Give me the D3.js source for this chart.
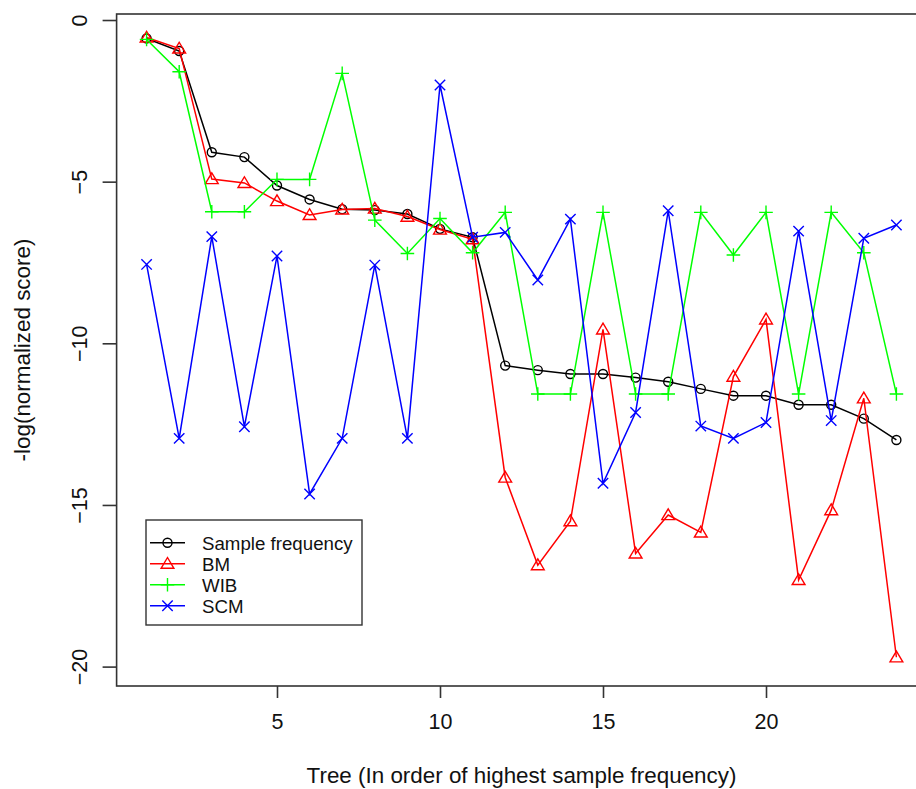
<!DOCTYPE html>
<html>
<head>
<meta charset="utf-8">
<script src="https://cdn.jsdelivr.net/npm/d3@7"></script>
<style>
  html, body { margin: 0; padding: 0; background: #fff; }
  svg { display: block; font-family: "Liberation Sans", Arial, sans-serif; }
</style>
</head>
<body>
<svg id="chart" width="916" height="789"></svg>
<script>
// Tree index (ordered by highest sample frequency)
const trees = d3.range(1, 25);

// -log(normalized score) per method
const sampleFreq = [-0.57, -0.96, -4.09, -4.24, -5.12, -5.55, -5.85, -5.88, -6.0, -6.46, -6.72, -10.69,
                    -10.83, -10.95, -10.95, -11.06, -11.19, -11.41, -11.62, -11.62, -11.9, -11.9, -12.33, -12.99];
const bm = [-0.54, -0.88, -4.92, -5.04, -5.6, -6.03, -5.86, -5.83, -6.08, -6.48, -6.78, -14.15,
            -16.86, -15.5, -9.57, -16.5, -15.31, -15.85, -11.03, -9.26, -17.32, -15.16, -11.7, -19.71];
const wib = [-0.6, -1.6, -5.93, -5.93, -4.93, -4.93, -1.65, -6.19, -7.22, -6.14, -7.2, -5.95,
             -11.57, -11.57, -5.95, -11.57, -11.57, -5.95, -7.27, -5.95, -11.57, -5.95, -7.2, -11.57];
const scm = [-7.56, -12.94, -6.7, -12.58, -7.3, -14.66, -12.94, -7.58, -12.94, -2.01, -6.72, -6.57,
             -8.04, -6.16, -14.33, -12.14, -5.9, -12.56, -12.94, -12.45, -6.53, -12.39, -6.75, -6.34];

const seriesNames = ["Sample frequency", "BM", "WIB", "SCM"];
const seriesColors = ["#000000", "#ff0000", "#00ff00", "#0000ff"];
const seriesShapes = ["circle", "triangle", "plus", "cross"];
const xTicks = [5, 10, 15, 20];
const yTicks = [0, -5, -10, -15, -20];
const xTitle = "Tree (In order of highest sample frequency)";
const yTitle = "-log(normalized score)";

const seriesValues = [sampleFreq, bm, wib, scm];

const svg = d3.select("#chart");
const font = "Liberation Sans, Arial, sans-serif";

// Plot region: x extends 4% past the data on each side, like R's default
const x = d3.scaleLinear().domain([0.08, 24.92]).range([116.6, 926.4]);
const y = d3.scaleLinear().domain([-20.6, 0.186]).range([686, 14]);

// Point symbol path generators
function symbolPath(shape) {
  switch (shape) {
    case "circle":
      return "M-4.5,0A4.5,4.5 0 1,0 4.5,0A4.5,4.5 0 1,0 -4.5,0Z";
    case "triangle":
      return "M0,-6.2L6.4,4.6L-6.4,4.6Z";
    case "plus":
      return "M-6.8,0L6.8,0M0,-6.8L0,6.8";
    case "cross":
      return "M-5.2,-5.2L5.2,5.2M-5.2,5.2L5.2,-5.2";
  }
}

// Lines and points, one series at a time
const line = d3.line().x((d, i) => x(trees[i])).y(d => y(d));
seriesValues.forEach((vals, k) => {
  const g = svg.append("g");
  g.append("path")
    .datum(vals)
    .attr("d", line)
    .attr("fill", "none")
    .attr("stroke", seriesColors[k])
    .attr("stroke-width", 1.5);
  g.selectAll("path.pt")
    .data(vals)
    .enter().append("path")
    .attr("class", "pt")
    .attr("transform", (d, i) => `translate(${x(trees[i])},${y(d)})`)
    .attr("d", symbolPath(seriesShapes[k]))
    .attr("fill", "none")
    .attr("stroke", seriesColors[k])
    .attr("stroke-width", 1.4);
});

// Frame around the plot region
svg.append("rect")
  .attr("x", x.range()[0]).attr("y", y.range()[1])
  .attr("width", x.range()[1] - x.range()[0])
  .attr("height", y.range()[0] - y.range()[1])
  .attr("fill", "none")
  .attr("stroke", "#333")
  .attr("stroke-width", 1.6);

// X axis
const xAxis = svg.append("g")
  .attr("transform", `translate(0,${y.range()[0]})`)
  .call(d3.axisBottom(x).tickValues(xTicks).tickSize(12).tickPadding(16).tickFormat(d3.format("d")));
xAxis.select(".domain").remove();
xAxis.selectAll("line").attr("stroke", "#333").attr("stroke-width", 1.6);
xAxis.selectAll("text")
  .attr("font-family", font).attr("font-size", 21.5).attr("fill", "#111");

// Y axis with labels parallel to the axis
const yAxis = svg.append("g")
  .attr("transform", `translate(${x.range()[0]},0)`)
  .call(d3.axisLeft(y).tickValues(yTicks).tickSize(14).tickFormat(d3.format("d")));
yAxis.select(".domain").remove();
yAxis.selectAll("line").attr("stroke", "#333").attr("stroke-width", 1.6);
yAxis.selectAll("text")
  .attr("font-family", font).attr("font-size", 21.5).attr("fill", "#111")
  .attr("x", null).attr("dy", null)
  .attr("text-anchor", "middle")
  .attr("transform", "translate(-30,0) rotate(-90)");

// Axis titles
svg.append("text")
  .attr("x", (x.range()[0] + x.range()[1]) / 2).attr("y", 783)
  .attr("text-anchor", "middle")
  .attr("font-family", font).attr("font-size", 22.4).attr("fill", "#111")
  .text(xTitle);
svg.append("text")
  .attr("transform", `translate(30,${(y.range()[0] + y.range()[1]) / 2}) rotate(-90)`)
  .attr("text-anchor", "middle")
  .attr("font-family", font).attr("font-size", 22.4).attr("fill", "#111")
  .text(yTitle);

// Legend
const legend = svg.append("g").attr("transform", "translate(146,520)");
legend.append("rect")
  .attr("width", 216).attr("height", 105)
  .attr("fill", "#fff").attr("stroke", "#333").attr("stroke-width", 1.4);
seriesNames.forEach((name, k) => {
  const cy = 22.7 + k * 21;
  const row = legend.append("g").attr("transform", `translate(0,${cy})`);
  row.append("line")
    .attr("x1", 4).attr("x2", 39).attr("y1", 0).attr("y2", 0)
    .attr("stroke", seriesColors[k]).attr("stroke-width", 1.5);
  row.append("path")
    .attr("transform", "translate(21.5,0)")
    .attr("d", symbolPath(seriesShapes[k]))
    .attr("fill", "none")
    .attr("stroke", seriesColors[k]).attr("stroke-width", 1.4);
  row.append("text")
    .attr("x", 56).attr("y", 7)
    .attr("font-family", font).attr("font-size", 18.7).attr("fill", "#111")
    .text(name);
});
</script>
</body>
</html>
